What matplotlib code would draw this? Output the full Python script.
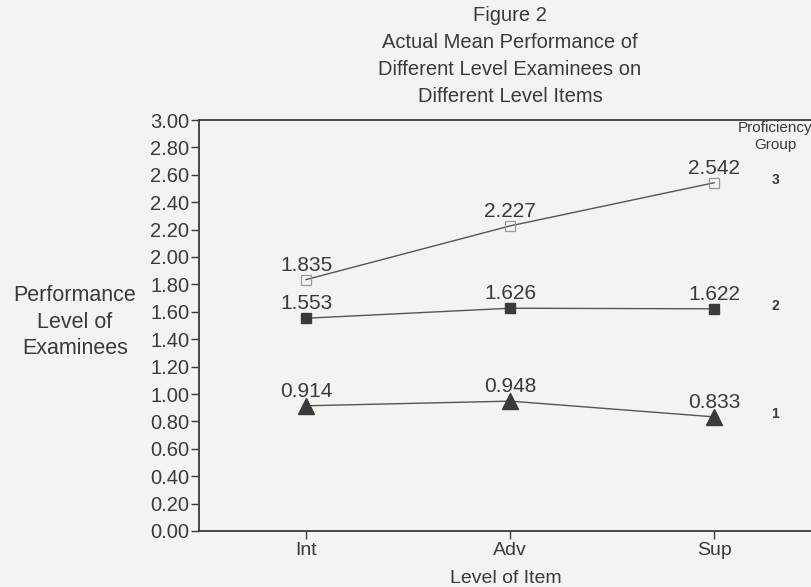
import matplotlib.pyplot as plt
import numpy as np

plt.rcParams["font.family"] = ["Liberation Sans", "DejaVu Sans"]

items = ["Int", "Adv", "Sup"]
groups = ["3", "2", "1"]
group3 = [1.835, 2.227, 2.542]
group2 = [1.553, 1.626, 1.622]
group1 = [0.914, 0.948, 0.833]
yticks = [0.0, 0.2, 0.4, 0.6, 0.8, 1.0, 1.2, 1.4, 1.6, 1.8, 2.0, 2.2, 2.4, 2.6, 2.8, 3.0]

bg = "#f3f3ef"
ink = "#3a3a3a"

fig = plt.figure(figsize=(8.12, 5.87), dpi=100, facecolor=bg)
ax = fig.add_axes([199 / 812, 1 - 531 / 587, 1 - 199 / 812, 411 / 587])
ax.set_facecolor(bg)

xs = np.arange(len(items))
series = [
    (group3, dict(marker="s", markersize=7, markerfacecolor="none",
                  markeredgecolor="#999999", markeredgewidth=0.9)),
    (group2, dict(marker="s", markersize=7, markerfacecolor=ink, markeredgecolor=ink)),
    (group1, dict(marker="^", markersize=11, markerfacecolor=ink, markeredgecolor=ink)),
]
for ys, style in series:
    ax.plot(xs, ys, color="#555555", linewidth=1.0, **style)
    for x, y in zip(xs, ys):
        ax.annotate(f"{y:.3f}", (x, y), xytext=(0, 10.5), textcoords="offset points",
                    ha="center", va="center", fontsize=15, color=ink)

# group numbers on the right
for g, ys in zip(groups, [group3, group2, group1]):
    ax.annotate(g, (2.3, ys[-1]), xytext=(0, 2), textcoords="offset points",
                fontsize=10, color=ink, ha="center", va="center", fontweight="semibold")
ax.text(2.3, 2.88, "Proficiency\nGroup", fontsize=11, color=ink,
        ha="center", va="center", linespacing=1.29)

ax.set_xlim(-0.525, 2.48)
ax.set_ylim(0, 3.0)
ax.set_xticks(xs)
ax.set_xticklabels(items, fontsize=14, color=ink)
ax.set_yticks(yticks)
ax.set_yticklabels([f"{t:.2f}" for t in yticks], fontsize=14.5, color=ink)
ax.tick_params(axis="y", length=6, width=1, color=ink, pad=1)
ax.tick_params(axis="x", length=6, width=1, color=ink, pad=2)
ax.spines["right"].set_visible(False)
for s in ["left", "bottom", "top"]:
    ax.spines[s].set_color(ink)
    ax.spines[s].set_linewidth(1.3)

ax.set_xlabel("Level of Item", fontsize=14, color=ink, labelpad=8)
fig.text(75 / 812, 1 - 322 / 587, "Performance\nLevel of\nExaminees", fontsize=15.5,
         color=ink, ha="center", va="center", linespacing=1.37)

fig.text(510 / 812, 1 - 56 / 587,
         "Figure 2\nActual Mean Performance of\nDifferent Level Examinees on\nDifferent Level Items",
         fontsize=14.5, color=ink, ha="center", va="center", linespacing=1.52)

fig.savefig("out.png", dpi=100, facecolor=bg)
